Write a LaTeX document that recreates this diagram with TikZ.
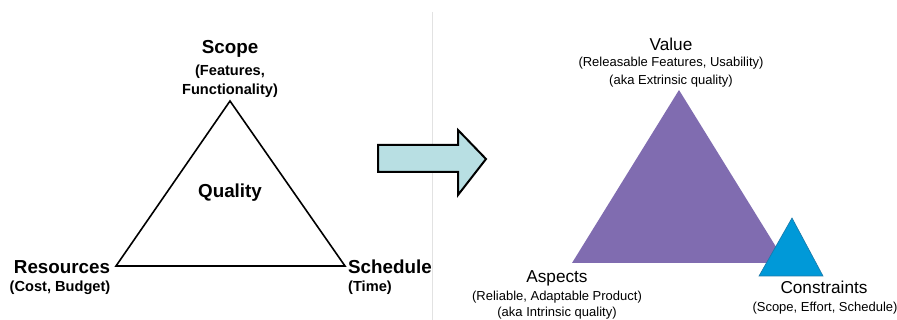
\documentclass[tikz,border=0pt]{standalone}
\usepackage{fontspec}
\setmainfont{Liberation Sans}
\definecolor{arrowfill}{HTML}{B8DFE3}
\definecolor{purp}{HTML}{806CB0}
\definecolor{bluetri}{HTML}{0099D8}
\definecolor{blueedge}{HTML}{1A78A8}
\definecolor{sep}{HTML}{E2E2E2}
\begin{document}
\begin{tikzpicture}[x=1pt,y=-1pt,
  bighead/.style={font=\bfseries\fontsize{18.8}{20}\selectfont, inner sep=0pt},
  bigsub/.style={font=\bfseries\fontsize{14.6}{17}\selectfont, inner sep=0pt, align=center},
  rhead/.style={font=\fontsize{17.2}{19}\selectfont, inner sep=0pt},
  rsub/.style={font=\fontsize{13}{14}\selectfont, inner sep=0pt}]
\useasboundingbox[fill=white] (0,0) rectangle (897,320);
% separator
\draw[sep, line width=1pt] (432,12) -- (432,320);
% left triangle
\coordinate (sA) at (230,101);
\coordinate (sL) at (116,266);
\coordinate (sR) at (345,266);
\draw[line width=1.6pt, line join=miter] (sA) -- (sL) -- (sR) -- cycle;
\node[bighead] (scope) at (230,49) {Scope};
\node[bigsub] (feat) at (230,72) {(Features,};
\node[bigsub] (func) at (230,91) {Functionality)};
\node[bighead] (quality) at (230,193) {Quality};
\node[bighead] (res) at (62,267) {Resources};
\node[bigsub] (cost) at (60,288) {(Cost, Budget)};
\begin{scope}
\clip (340,240) rectangle (431,300);
\node[bighead, anchor=west] (sched) at (348,267) {Schedule};
\end{scope}
\node[bigsub, anchor=west] (time) at (348,288) {(Time)};
% arrow
\draw[line width=2pt, fill=arrowfill, line join=miter]
  (378,145) -- (458,145) -- (458,130) -- (486,159) -- (458,195) -- (458,172) -- (378,172) -- cycle;
% right triangles
\coordinate (vA) at (679,90);
\coordinate (vL) at (572,263);
\coordinate (vR) at (786,263);
\fill[purp] (vA) -- (vL) -- (vR) -- cycle;
\coordinate (cA) at (792,218);
\coordinate (cL) at (759,276);
\coordinate (cR) at (823,276);
\filldraw[fill=bluetri, draw=blueedge, line width=0.6pt] (cA) -- (cL) -- (cR) -- cycle;
\node[rhead] (value) at (671,44) {Value};
\node[rsub] (rel) at (671,63) {(Releasable Features, Usability)};
\node[rsub] (ext) at (671,81) {(aka Extrinsic quality)};
\node[rhead] (asp) at (557,278) {Aspects};
\node[rsub] (rap) at (557,297) {(Reliable, Adaptable Product)};
\node[rsub] (intr) at (557,313) {(aka Intrinsic quality)};
\node[rhead] (con) at (824,287) {Constraints};
\node[rsub] (ses) at (825,308) {(Scope, Effort, Schedule)};
\end{tikzpicture}
\end{document}
